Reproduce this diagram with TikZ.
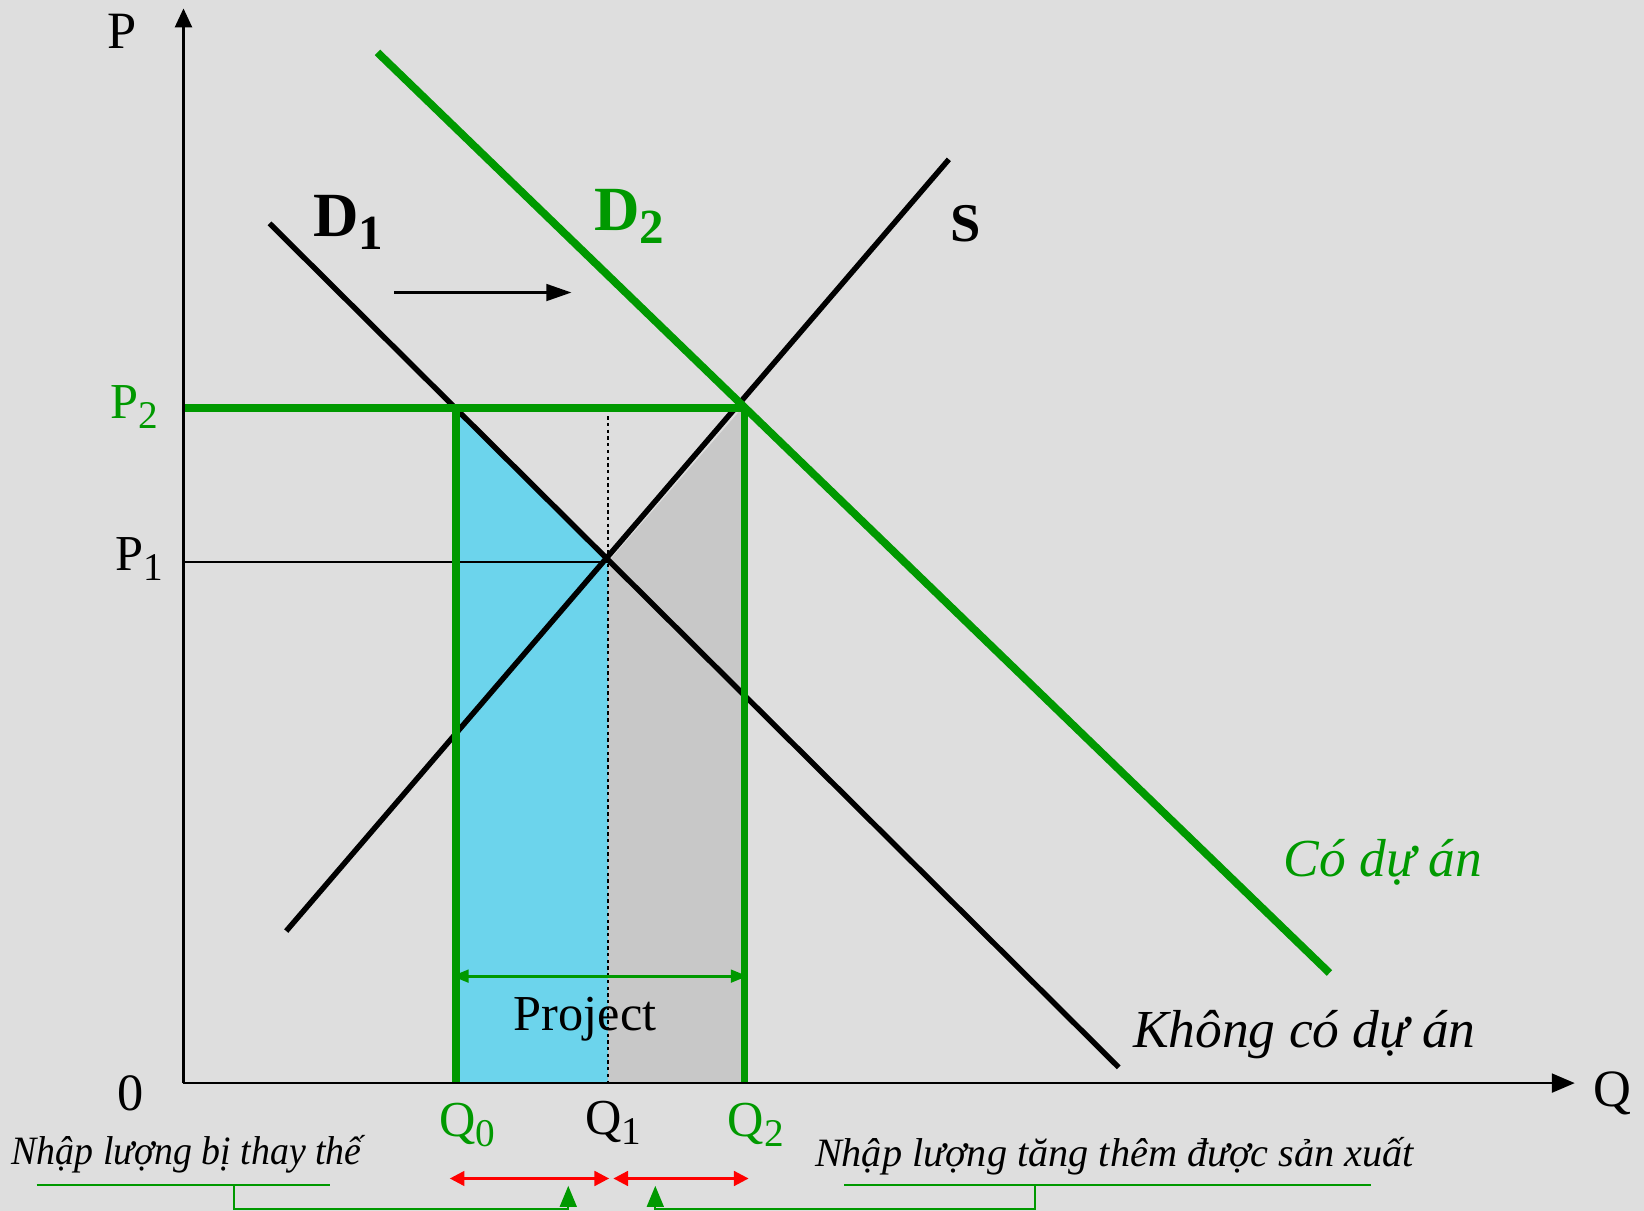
\documentclass[tikz,border=0pt]{standalone}
\usepackage{fontspec}
\setmainfont{Liberation Serif}
\newfontfamily\condserif[FakeStretch=0.94]{Liberation Serif}
\usetikzlibrary{arrows.meta}
\definecolor{bgc}{HTML}{DEDEDE}
\definecolor{grn}{HTML}{009900}
\definecolor{cyanfill}{HTML}{6CD4EC}
\definecolor{grayfill}{HTML}{C8C8C8}
\definecolor{redc}{HTML}{FF0000}
\newcommand\lowsub[1]{\raisebox{-0.45ex}{\scalebox{0.78}{#1}}}
\tikzset{
  curve/.style={line width=2.6pt,black},
  gcurve/.style={line width=3.7pt,grn},
  axisline/.style={line width=1.3pt,black},
  thin/.style={line width=1pt,black},
  lbl/.style={inner sep=0pt,font=\fontsize{24}{26}\selectfont},
  bigl/.style={inner sep=0pt,font=\fontsize{30}{32}\selectfont\bfseries},
  itl/.style={inner sep=0pt,font=\fontsize{25.5}{28}\selectfont\itshape},
  smallit/.style={inner sep=0pt,font=\fontsize{19.2}{22}\selectfont\itshape},
  brk/.style={line width=1pt,grn},
  redarr/.style={line width=1.3pt,redc,{Triangle[width=7pt,length=7pt]}-{Triangle[width=7pt,length=7pt]}},
}
\begin{document}
\begin{tikzpicture}[x=0.5pt,y=-0.5pt]
\fill[bgc] (0,0) rectangle (1568,1155);
\useasboundingbox (0,0) rectangle (1568,1155);
% key coordinates
\coordinate (O) at (175,1033);
\coordinate (Ytop) at (175,8);
\coordinate (Xend) at (1502,1033);
\coordinate (A) at (435,389);  % D1 at P2
\coordinate (E1) at (580,536); % equilibrium 1
\coordinate (E2) at (708,389); % equilibrium 2
\coordinate (Q0b) at (435,1033);
\coordinate (Q1b) at (580,1033);
\coordinate (Q2b) at (710,1033);
\coordinate (P2a) at (175,389);
\coordinate (P1a) at (175,536);
% shaded areas
\fill[cyanfill] (A) -- (E1) -- (Q1b) -- (Q0b) -- cycle;
\fill[grayfill] (E1) -- (E2) -- (Q2b |- E2) -- (Q2b) -- (Q1b) -- cycle;
% P1 line
\draw[thin] (P1a) -- (E1);
% dotted Q1
\coordinate (Q1t) at (580,397);
\draw[line width=1.3pt,dash pattern=on 1.6pt off 1.6pt] (Q1t) -- (Q1b);
% curves
\coordinate (D1s) at (257,213);
\coordinate (D1e) at (1067,1018);
\coordinate (Ss) at (273,888);
\coordinate (Se) at (905,152);
\coordinate (D2s) at (360,50);
\coordinate (D2e) at (1268,928);
\draw[curve] (D1s) -- (D1e);
\draw[curve] (Ss) -- (Se);
\draw[gcurve] (D2s) -- (D2e);
% green price/quantity lines
\draw[gcurve] (P2a) -- (E2);
\draw[gcurve] (Q0b) -- (A);
\draw[gcurve] (Q2b) -- (Q2b |- E2);
% axes
\draw[axisline,-{Triangle[width=8pt,length=9pt]}] (O) -- (Ytop);
\draw[axisline,-{Triangle[width=9pt,length=11pt]}] (O) -- (Xend);
% shift arrow
\coordinate (sh1) at (376,279);
\coordinate (sh2) at (545,279);
\draw[line width=1.2pt,-{Triangle[width=8pt,length=12pt]}] (sh1) -- (sh2);
% project arrow
\coordinate (pr1) at (431,931);
\coordinate (pr2) at (713,931);
\draw[line width=1.5pt,grn,{Triangle[width=6pt,length=8pt]}-{Triangle[width=6pt,length=8pt]}] (pr1) -- (pr2);
\node[lbl] (proj) at (558,972) {Project};
% labels
\node[lbl,font=\fontsize{25}{27}\selectfont] (Plbl) at (116,30) {P};
\node[lbl,font=\fontsize{25}{27}\selectfont] (Qlbl) at (1538,1043) {Q};
\node[lbl,font=\fontsize{25}{27}\selectfont] (Olbl) at (125,1043) {0};
\node[lbl,grn] (P2l) at (128,388) {P\lowsub{2}};
\node[lbl] (P1l) at (133,533) {P\lowsub{1}};
\node[lbl,grn] (Q0l) at (446,1073) {Q\lowsub{0}};
\node[lbl] (Q1l) at (585,1071) {Q\lowsub{1}};
\node[lbl,grn] (Q2l) at (721,1073) {Q\lowsub{2}};
\node[bigl] (D1l) at (332,212) {D\lowsub{1}};
\node[bigl,grn] (D2l) at (600,206) {D\lowsub{2}};
\node[bigl,font=\fontsize{26}{28}\selectfont\bfseries] (Sl) at (921,213) {S};
\node[itl,grn] (codl) at (1319,822) {Có dự án};
\node[itl] (khl) at (1244,987) {Không có dự án};
% bottom notes
\node[smallit,font=\fontsize{19.2}{22}\condserif\itshape] (n1) at (178,1101) {Nhập lượng bị thay thế};
\node[smallit] (n2) at (1063,1103) {Nhập lượng tăng thêm được sản xuất};
% red arrows
\coordinate (r1a) at (429,1124);
\coordinate (r1b) at (581,1124);
\coordinate (r2a) at (585,1124);
\coordinate (r2b) at (714,1124);
\draw[redarr] (r1a) -- (r1b);
\draw[redarr] (r2a) -- (r2b);
% brackets
\coordinate (b1l) at (35,1130);
\coordinate (b1r) at (315,1130);
\coordinate (b1m) at (223,1130);
\coordinate (b1tip) at (542,1131);
\draw[brk] (b1l) -- (b1r);
\draw[brk,-{Triangle[width=8pt,length=10pt]}] (b1m) -- (223,1153) -| (b1tip);
\coordinate (b2l) at (805,1130);
\coordinate (b2r) at (1308,1130);
\coordinate (b2m) at (987,1130);
\coordinate (b2tip) at (625,1131);
\draw[brk] (b2l) -- (b2r);
\draw[brk,-{Triangle[width=8pt,length=10pt]}] (b2m) -- (987,1153) -| (b2tip);
\end{tikzpicture}
\end{document}
